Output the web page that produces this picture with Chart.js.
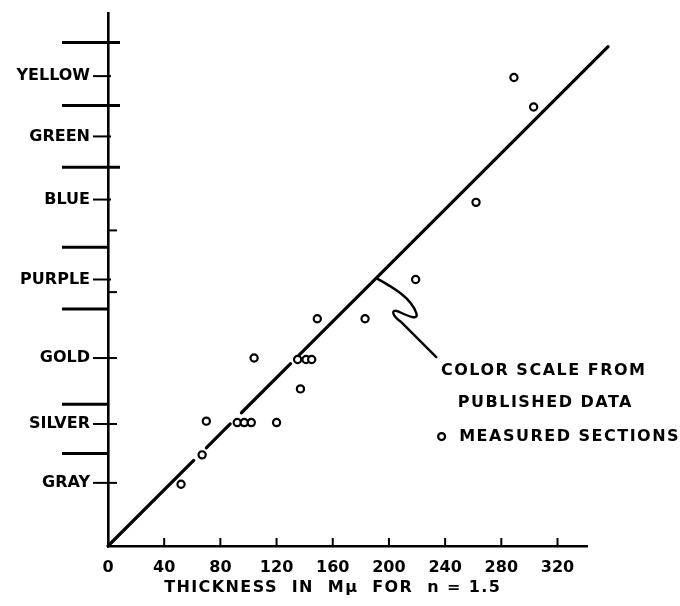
<!DOCTYPE html>
<html><head><meta charset="utf-8">
<script src="https://cdn.jsdelivr.net/npm/chart.js@4"></script>
<style>html,body{margin:0;padding:0;background:#fff}</style>
</head><body>
<canvas id="c" width="680" height="606"></canvas>
<script>
// ---- data ----
const colorNames  = ['GRAY', 'SILVER', 'GOLD', 'PURPLE', 'BLUE', 'GREEN', 'YELLOW'];
const colorValues = [45, 87, 134, 190, 247, 292, 335];
const bandBoundaries = [66, 101, 169, 213, 270, 314, 359];
const minorTicks = [181, 225];
const xTickValues = [0, 40, 80, 120, 160, 200, 240, 280, 320];
const measuredX = [52, 67, 70, 92, 97, 102, 120, 137, 104, 135, 141, 145, 149, 183, 219, 262, 289, 303];
const measuredY = [44, 65, 89, 88, 88, 88, 88, 112, 134, 133, 133, 133, 162, 162, 190, 245, 334, 313];
const scaleLineX = [0, 61, null, 70, 87, null, 95, 130, null, 136, 356];
const scaleLineY = [0, 61, null, 70, 87, null, 95, 130, null, 136, 356];
const xTitle = 'THICKNESS  IN  Mμ  FOR  n = 1.5';
const noteLines = ['COLOR SCALE FROM', 'PUBLISHED DATA'];
const legendText = 'MEASURED SECTIONS';

const FONT = '"DejaVu Sans", "Liberation Sans", sans-serif';

const deco = {
  id: 'deco',
  afterDatasetsDraw(chart) {
    const {ctx, chartArea, scales: {x, y}} = chart;
    const ax = x.getPixelForValue(0);
    ctx.save();
    ctx.strokeStyle = '#000';
    ctx.fillStyle = '#000';
    ctx.lineCap = 'butt';
    // band boundary ticks
    ctx.lineWidth = 3;
    bandBoundaries.forEach(v => {
      const py = y.getPixelForValue(v);
      ctx.beginPath();
      ctx.moveTo(ax - 46, py);
      ctx.lineTo(ax + (v > 260 ? 12 : 0), py);
      ctx.stroke();
    });
    // labelled ticks
    ctx.lineWidth = 2;
    colorValues.forEach(v => {
      const py = y.getPixelForValue(v);
      ctx.beginPath();
      ctx.moveTo(ax - 15, py);
      ctx.lineTo(ax + (v < 150 ? 9 : 3), py);
      ctx.stroke();
    });
    minorTicks.forEach(v => {
      const py = y.getPixelForValue(v);
      ctx.beginPath();
      ctx.moveTo(ax, py);
      ctx.lineTo(ax + 9, py);
      ctx.stroke();
    });
    // x ticks pointing up
    xTickValues.slice(1).forEach(v => {
      const px = x.getPixelForValue(v);
      ctx.beginPath();
      ctx.moveTo(px, chartArea.bottom);
      ctx.lineTo(px, chartArea.bottom - 8);
      ctx.stroke();
    });
    // leader curve
    const sx = x.getPixelForValue(191), sy = y.getPixelForValue(191);
    ctx.lineWidth = 2.4;
    ctx.lineJoin = 'round';
    ctx.lineCap = 'round';
    ctx.beginPath();
    ctx.moveTo(sx, sy);
    ctx.bezierCurveTo(sx + 18, sy + 10, sx + 35, sy + 20, sx + 40, sy + 35);
    ctx.bezierCurveTo(sx + 43, sy + 44, sx + 28, sy + 36, sx + 21, sy + 33);
    ctx.bezierCurveTo(sx + 15, sy + 31, sx + 15, sy + 37, sx + 25, sy + 44);
    ctx.lineTo(sx + 60, sy + 79);
    ctx.stroke();
    // texts
    ctx.font = 'bold 16px ' + FONT;
    ctx.textBaseline = 'middle';
    ctx.textAlign = 'left';
    try { ctx.letterSpacing = '1.5px'; } catch (e) {}
    ctx.fillText(noteLines[0], x.getPixelForValue(237), y.getPixelForValue(125));
    ctx.fillText(noteLines[1], x.getPixelForValue(249), y.getPixelForValue(102));
    ctx.fillText(legendText, x.getPixelForValue(250), y.getPixelForValue(78));
    // legend marker
    ctx.lineWidth = 2.2;
    ctx.beginPath();
    ctx.arc(x.getPixelForValue(237.5), y.getPixelForValue(78), 3.5, 0, Math.PI * 2);
    ctx.fillStyle = '#fff';
    ctx.fill();
    ctx.stroke();
    // x axis title
    ctx.fillStyle = '#000';
    ctx.textAlign = 'center';
    try { ctx.letterSpacing = '1.4px'; } catch (e) {}
    ctx.fillText(xTitle, x.getPixelForValue(160), chartArea.bottom + 42);
    ctx.restore();
  }
};

const noPad = s => { s.paddingTop = 0; s.paddingBottom = 0; s.paddingLeft = 0; s.paddingRight = 0; };

new Chart(document.getElementById('c'), {
  data: {
    datasets: [
      {
        type: 'line',
        label: 'Color scale from published data',
        data: scaleLineX.map((v, i) => ({x: v, y: scaleLineY[i]})),
        borderColor: '#000',
        borderWidth: 3.2,
        pointRadius: 0,
        spanGaps: false,
        clip: false,
        tension: 0,
        borderCapStyle: 'round'
      },
      {
        type: 'scatter',
        label: 'Measured sections',
        data: measuredX.map((v, i) => ({x: v, y: measuredY[i]})),
        borderColor: '#000',
        backgroundColor: '#fff',
        borderWidth: 2.2,
        pointRadius: 3.6,
        pointHoverRadius: 3.6
      }
    ]
  },
  options: {
    responsive: false,
    animation: false,
    devicePixelRatio: 1,
    layout: {padding: {top: 13, right: 93, left: 0, bottom: 0}},
    plugins: {legend: {display: false}, tooltip: {enabled: false}},
    scales: {
      x: {
        type: 'linear',
        min: 0, max: 341,
        afterBuildTicks: s => { s.ticks = xTickValues.map(v => ({value: v})); },
        afterFit: s => { s.height = 60; noPad(s); },
        grid: {display: false, drawTicks: false},
        border: {display: true, color: '#000', width: 2.6},
        ticks: {
          color: '#000', padding: 12, maxRotation: 0, autoSkip: false,
          font: {family: FONT, size: 16, weight: 'bold'}
        }
      },
      y: {
        type: 'linear',
        min: 0, max: 380,
        afterBuildTicks: s => { s.ticks = colorValues.map(v => ({value: v})); },
        afterFit: s => { s.width = 108; noPad(s); },
        grid: {display: false, drawTicks: false},
        border: {display: true, color: '#000', width: 2.6},
        ticks: {
          color: '#000', padding: 18, autoSkip: false,
          font: {family: FONT, size: 16, weight: 'bold'},
          callback: v => colorNames[colorValues.indexOf(v)]
        }
      }
    }
  },
  plugins: [deco]
});
</script>
</body></html>
